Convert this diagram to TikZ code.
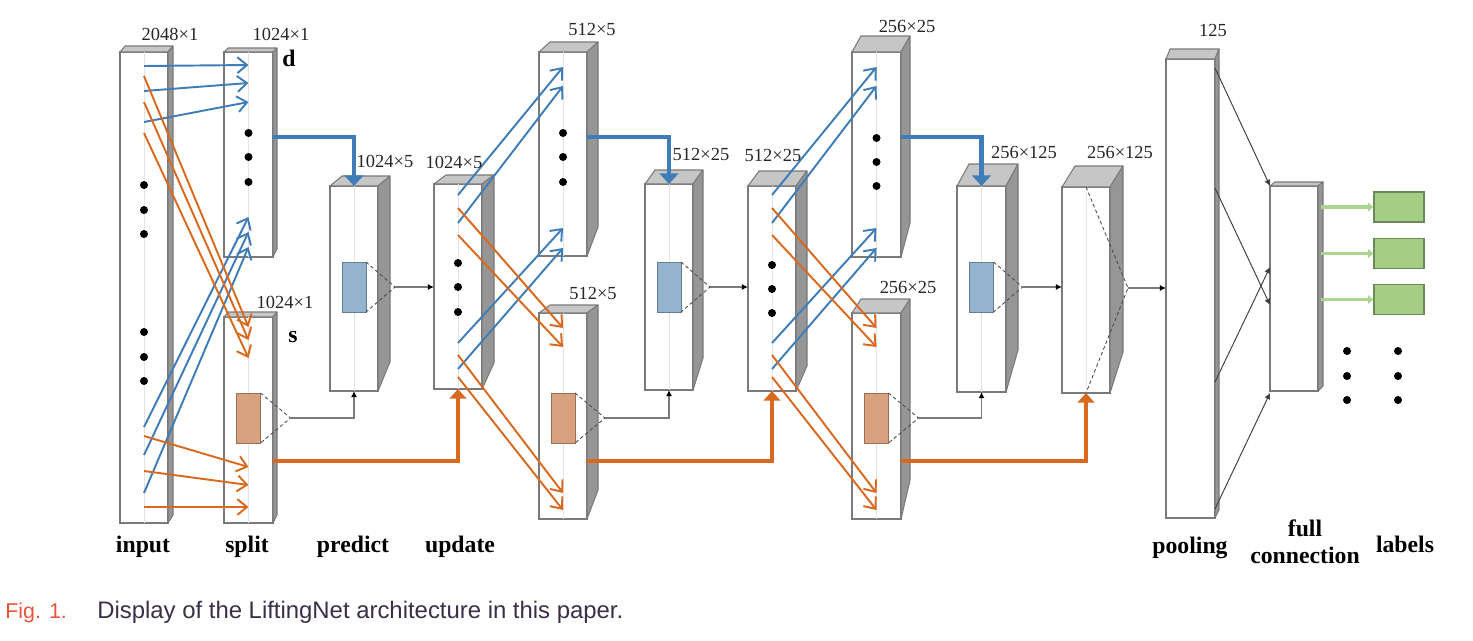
\documentclass[tikz,border=0pt]{standalone}
\usepackage{fontspec}
\setmainfont{Liberation Serif}
\newfontfamily\capfont{Liberation Sans}
\usetikzlibrary{arrows.meta,positioning,calc}
\definecolor{liftblue}{HTML}{3F7DB8}
\definecolor{liftorange}{HTML}{D9691F}
\definecolor{rectblue}{HTML}{93B3CF}
\definecolor{rectorange}{HTML}{D9A27E}
\definecolor{labgreen}{HTML}{A5CD84}
\definecolor{labgreenline}{HTML}{6B8A5A}
\definecolor{arrgreen}{HTML}{A9D58F}
\definecolor{topgray}{HTML}{C6C6C6}
\definecolor{sidegray}{HTML}{969696}
\definecolor{edgegray}{HTML}{7A7A7A}
\definecolor{figred}{HTML}{E8553A}
\definecolor{captext}{HTML}{3B2F48}
\newcommand{\pxl}{0.02cm}
\tikzset{
  face style/.style={rectangle, draw=edgegray, fill=white, line width=0.75pt,
    inner sep=0pt, outer sep=0pt, anchor=north west},
  top style/.style={draw=edgegray, fill=topgray, line width=0.6pt, line join=round},
  side style/.style={draw=edgegray, fill=sidegray, line width=0.6pt, line join=round},
  mid style/.style={draw=gray!22, line width=0.4pt},
  blue arr style/.style={draw=liftblue, line width=1.1pt, -{Straight Barb[length=5.5pt,width=9pt]}},
  orange arr style/.style={draw=liftorange, line width=1.1pt, -{Straight Barb[length=5.5pt,width=9pt]}},
  blue thick style/.style={draw=liftblue, line width=2.5pt, -{Triangle[length=6pt,width=10.5pt]}},
  orange thick style/.style={draw=liftorange, line width=2.2pt, -{Triangle[length=5.5pt,width=9.5pt]}},
  gray arr style/.style={draw=edgegray, line width=0.7pt, -{Latex[length=3.5pt,width=3.5pt,black]}},
  dash style/.style={draw=black!70, dashed, dash pattern=on 2pt off 1.5pt, line width=0.5pt},
  fc style/.style={draw=black!75, line width=0.55pt, -{Latex[length=3.5pt,width=3.5pt]}},
  green arr style/.style={draw=arrgreen, line width=1.8pt, -{Triangle[length=3pt,width=5pt]}},
  orect style/.style={rectangle, draw=rectorange!70!black, fill=rectorange, line width=0.5pt,
    minimum width=24*\pxl, minimum height=50*\pxl, inner sep=0pt, outer sep=0pt},
  brect style/.style={rectangle, draw=rectblue!70!black, fill=rectblue, line width=0.5pt,
    minimum width=24*\pxl, minimum height=50*\pxl, inner sep=0pt, outer sep=0pt},
  lab box style/.style={rectangle, draw=labgreenline, fill=labgreen, line width=0.8pt,
    minimum width=50*\pxl, minimum height=30*\pxl, inner sep=0pt},
  dim style/.style={font=\fontsize{10.5}{12}\selectfont, text=black!85, inner sep=0pt, anchor=base},
  name style/.style={font=\fontsize{13.5}{15}\selectfont\bfseries, inner sep=0pt, anchor=base},
  cap style/.style={font=\capfont\fontsize{13.6}{15}\selectfont, inner sep=0pt, anchor=base west}
}
% top and side faces of a block: node, dx, dy, rise of the back bottom edge
\newcommand{\prismfaces}[4]{%
  \filldraw[top style] (#1.north west) -- ($(#1.north west)+(#2,-#3)$)
    -- ($(#1.north east)+(#2,-#3)$) -- (#1.north east) -- cycle;
  \filldraw[side style] (#1.north east) -- ($(#1.north east)+(#2,-#3)$)
    -- ($(#1.south east)+(#2,-#4)$) -- (#1.south east) -- cycle;
}

\begin{document}
\begin{tikzpicture}[x=0.02cm, y=-0.02cm]
\useasboundingbox (0,0) rectangle (1473,640);

% blocks
\foreach \nm/\x/\y/\w/\h/\dx/\dy/\rs in {
    inp/120/52/48/471/5/6/8, spd/224/52/49/205/4/4/8, sps/224/317/49/206/4/5/8,
    pr1/330/186/48/205/12/10/29, up1/434/184/48/205/12/9/26,
    l2d/539/52/48/204/11/10/29, l2s/539/313/48/206/11/8/29,
    pr2/645/184/48/206/10/14/32, up2/748/186/48/205/11/15/25,
    l3d/852/52/49/205/9/16/34, l3s/852/313/49/206/9/14/39,
    pr3/957/186/49/206/12/22/42, lst/1062/187/48/206/13/21/41,
    pool/1166/59/49/459/4/10/8, fc/1270/186/48/205/5/4/5} {
  \node[face style, minimum width=\w*\pxl, minimum height=\h*\pxl] (\nm) at (\x,\y) {};
  \prismfaces{\nm}{\dx}{\dy}{\rs}
}
\foreach \nm in {inp,spd,sps,pr1,up1,l2d,l2s,pr2,up2,l3d,l3s,pr3,lst}
  \draw[mid style] (\nm.north) -- (\nm.south);

% dots inside the blocks
\foreach \nm/\y in {inp/185, inp/210, inp/234, inp/332, inp/357, inp/381,
    spd/133, spd/157, spd/182, up1/263, up1/287, up1/312,
    l2d/133, l2d/157, l2d/182, up2/265, up2/289, up2/313,
    l3d/138, l3d/162, l3d/186}
  \fill (\nm.north |- 0,\y) circle[radius=0.08cm];
\foreach \x in {1347,1398}
  \foreach \y in {351,376,400}
    \fill (\x,\y) circle[radius=0.08cm];

% split
\foreach \ya/\yb in {66/65, 91/83, 122/102, 427/217, 455/232, 493/247}
  \draw[blue arr style] (inp.north |- 0,\ya) -- (spd.north |- 0,\yb);
\foreach \ya/\yb in {76/327, 102/340, 133/358, 436/467, 471/485, 507/507}
  \draw[orange arr style] (inp.north |- 0,\ya) -- (sps.north |- 0,\yb);

% next levels
\foreach \src/\td/\ts in {up1/l2d/l2s, up2/l3d/l3s} {
  \foreach \ya/\yb in {195/67, 223/86, 343/228, 369/248}
    \draw[blue arr style] (\src.north |- 0,\ya) -- (\td.north |- 0,\yb);
  \foreach \ya/\yb in {208/328, 235/347, 355/493, 377/510}
    \draw[orange arr style] (\src.north |- 0,\ya) -- (\ts.north |- 0,\yb);
}

% predict and update
\foreach \i/\sd/\ss/\pr/\nx in {1/spd/sps/pr1/up1, 2/l2d/l2s/pr2/up2, 3/l3d/l3s/pr3/lst} {
  \node[orect style] (or\i) at (\ss.north |- 0,418) {};
  \node[brect style] (bl\i) at (\pr.north |- 0,287) {};
  \coordinate (oa\i) at ($(or\i.east)+(30,0)$);
  \coordinate (ba\i) at ($(bl\i.east)+(29,0)$);
  \draw[dash style] (or\i.north east) -- (oa\i) -- (or\i.south east);
  \draw[dash style] (bl\i.north east) -- (ba\i) -- (bl\i.south east);
  \draw[gray arr style] (oa\i) -| (\pr.south);
  \draw[gray arr style] (ba\i) -- (ba\i -| \nx.west);
  \draw[blue thick style] (\sd.east |- 0,137) -| (\pr.north);
  \draw[orange thick style] (\ss.east |- 0,461) -| (\nx.south);
}
\coordinate (la) at ($(lst.east)+(18,-2)$);
\draw[dash style] (lst.north) -- (la) -- (lst.south);
\draw[gray arr style] (la) -- (la -| pool.west);

% full connection and labels
\foreach \ya/\yb in {68/186, 188/305, 382/267, 509/393}
  \draw[fc style] (pool.east |- 0,\ya) -- (fc.west |- 0,\yb);
\foreach \i/\y in {1/207, 2/253.5, 3/299.5} {
  \node[lab box style] (lab\i) at (1399,\y) {};
  \draw[green arr style] ($(fc.east |- lab\i)+(3,0)$) -- (lab\i.west);
}

% sizes
\foreach \nm/\x/\y/\t in {inp/170/40/2048×1, spd/281/40/1024×1, sps/285/308/1024×1,
    pr1/385/167/1024×5, up1/454/168/1024×5, l2d/592/35/512×5, l2s/593/299/512×5,
    pr2/701/160/512×25, up2/773/161/512×25, l3d/907/32/256×25, l3s/908/293/256×25,
    pr3/1024/158/256×125, lst/1120/158/256×125, pool/1213/36/125}
  \node[dim style] (dim\nm) at (\x,\y) {\t};
\node[name style] (dlab) at (289,66) {d};
\node[name style] (slab) at (293,342) {s};

% stage names
\foreach \nm/\x/\y/\t in {inp/143/552/input, spl/247/552/split, prd/353/552/predict,
    upd/460/552/update, pol/1190/553/pooling, ful/1305/536/full,
    con/1305/563/connection, lbl/1405/552/labels}
  \node[name style] (nm\nm) at (\x,\y) {\t};

% caption
\node[cap style, text=figred, font=\capfont\fontsize{12.2}{14}\selectfont] (fignum) at (5,618) {Fig. 1.};
\node[cap style, text=captext] (figtxt) at (97,618) {Display of the LiftingNet architecture in this paper.};
\end{tikzpicture}
\end{document}
